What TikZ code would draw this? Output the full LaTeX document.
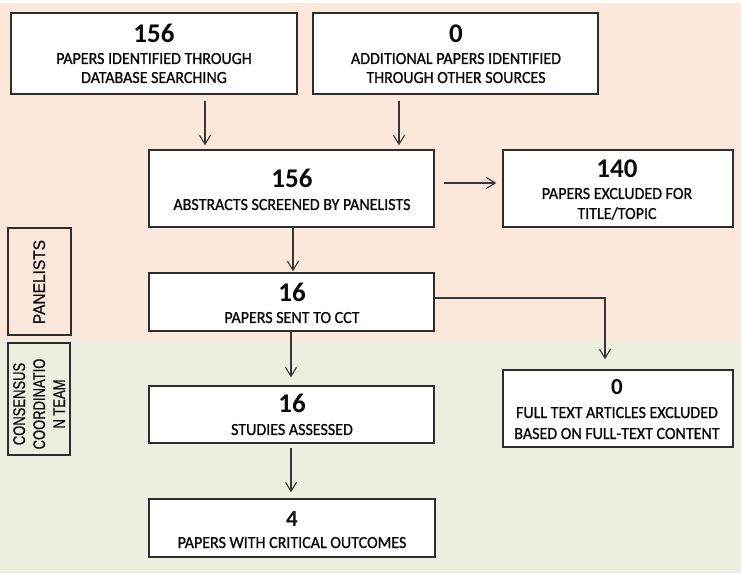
\documentclass[tikz,border=0pt]{standalone}
\usepackage{fontspec}
\setmainfont{Carlito}
\newfontfamily\bodyf{Carlito}[FakeBold=1.0]
\newfontfamily\arialf{Liberation Sans}[FakeBold=0.5]
\usetikzlibrary{arrows.meta}
\definecolor{peach}{RGB}{252,232,218}
\definecolor{sage}{RGB}{235,239,224}
\definecolor{edgec}{RGB}{45,45,45}
\definecolor{arrc}{RGB}{55,55,55}
\definecolor{txtc}{RGB}{10,10,10}
\newcommand{\tall}[1]{\scalebox{1}[1.06]{#1}}
\begin{document}
\begin{tikzpicture}[x=1pt,y=-1pt,
  box/.style={draw=edgec, line width=1.4pt, fill=white, rectangle, inner sep=0pt},
  num/.style={anchor=base, inner sep=0pt, text=txtc, font=\bfseries\fontsize{27}{30}\selectfont},
  smallnum/.style={num, font=\bfseries\fontsize{23}{26}\selectfont},
  lbl/.style={anchor=base, inner sep=0pt, text=txtc, font=\bodyf\fontsize{16}{19}\selectfont},
  side/.style={anchor=base, inner sep=0pt, rotate=90, text=txtc},
  arr/.style={draw=arrc, line width=1.1pt, -{Straight Barb[length=9pt,width=11pt,line width=1.1pt]}}
]
\useasboundingbox (0,0) rectangle (742,577);
\fill[peach] (0,3) rectangle (741,340);
\fill[sage] (0,340) rectangle (741,573);

% boxes
\node[box, minimum width=286pt, minimum height=81pt] (b1) at (154,53.5) {};
\node[box, minimum width=285pt, minimum height=81pt] (b2) at (455.5,53.5) {};
\node[box, minimum width=285pt, minimum height=77pt] (b3) at (291.5,188.5) {};
\node[box, minimum width=230pt, minimum height=77pt] (b4) at (618,188.5) {};
\node[box, minimum width=285pt, minimum height=58pt] (b5) at (291.5,302) {};
\node[box, minimum width=230pt, minimum height=77pt] (b6) at (618,408.5) {};
\node[box, minimum width=285pt, minimum height=57pt] (b7) at (291.5,414.5) {};
\node[box, minimum width=286pt, minimum height=58pt] (b8) at (292,528) {};
\node[draw=edgec, line width=1.3pt, rectangle, inner sep=0pt, minimum width=63pt, minimum height=107pt] (pan) at (39.5,281.5) {};
\node[draw=edgec, line width=1.3pt, rectangle, inner sep=0pt, minimum width=62pt, minimum height=112pt] (cct) at (39,399) {};

% texts
\node[num] (t1n) at (154,43) {156};
\node[lbl] (t1a) at (154,64) {\tall{PAPERS IDENTIFIED THROUGH}};
\node[lbl] (t1b) at (154,83) {\tall{DATABASE SEARCHING}};

\node[num] (t2n) at (456,43) {0};
\node[lbl] (t2a) at (456,64) {\tall{ADDITIONAL PAPERS IDENTIFIED}};
\node[lbl] (t2b) at (456,83) {\tall{THROUGH OTHER SOURCES}};

\node[num] (t3n) at (292,188) {156};
\node[lbl] (t3a) at (292,210) {\tall{ABSTRACTS SCREENED BY PANELISTS}};

\node[num] (t4n) at (617,178) {140};
\node[lbl] (t4a) at (617,199) {\tall{PAPERS EXCLUDED FOR}};
\node[lbl] (t4b) at (617,219) {\tall{TITLE/TOPIC}};

\node[num] (t5n) at (292,302) {16};
\node[lbl] (t5a) at (292,323) {\tall{PAPERS SENT TO CCT}};

\node[smallnum] (t6n) at (617,395) {0};
\node[lbl] (t6a) at (617,418) {\tall{FULL TEXT ARTICLES EXCLUDED}};
\node[lbl] (t6b) at (617,439) {\tall{BASED ON FULL-TEXT CONTENT}};

\node[num] (t7n) at (292,413) {16};
\node[lbl] (t7a) at (292,435) {\tall{STUDIES ASSESSED}};

\node[smallnum] (t8n) at (292,526) {4};
\node[lbl] (t8a) at (292,548) {\tall{PAPERS WITH CRITICAL OUTCOMES}};

\node[side, font=\arialf\fontsize{15.5}{18}\selectfont] (sp) at (45,282) {\scalebox{1}[1.08]{PANELISTS}};
\node[side, font=\arialf\fontsize{13}{16}\selectfont] (sc1) at (25,404) {\scalebox{1}[1.3]{CONSENSUS}};
\node[side, font=\arialf\fontsize{13}{16}\selectfont] (sc2) at (45,404) {\scalebox{1}[1.3]{COORDINATIO}};
\node[side, font=\arialf\fontsize{13}{16}\selectfont] (sc3) at (65,404) {\scalebox{1}[1.3]{N TEAM}};

% connectors
\coordinate (xa) at (205,0);
\coordinate (xb) at (399,0);
\coordinate (xc) at (293,0);
\coordinate (xd) at (291,0);
\coordinate (ya) at (0,183);
\coordinate (k) at (605,298);

\draw[arr, shorten <=6pt, shorten >=4pt] (xa |- b1.south) -- (xa |- b3.north);
\draw[arr, shorten <=6pt, shorten >=4pt] (xb |- b2.south) -- (xb |- b3.north);
\draw[arr, shorten <=9pt, shorten >=6pt] (b3.east |- ya) -- (b4.west |- ya);
\draw[arr, shorten >=1pt] (xc |- b3.south) -- (xc |- b5.north);
\draw[arr, shorten >=10pt] (b5.east |- k) -| (k |- b6.north);
\draw[arr, shorten >=8pt] (xd |- b5.south) -- (xd |- b7.north);
\draw[arr, shorten <=4pt, shorten >=6pt] (xd |- b7.south) -- (xd |- b8.north);
\end{tikzpicture}
\end{document}
